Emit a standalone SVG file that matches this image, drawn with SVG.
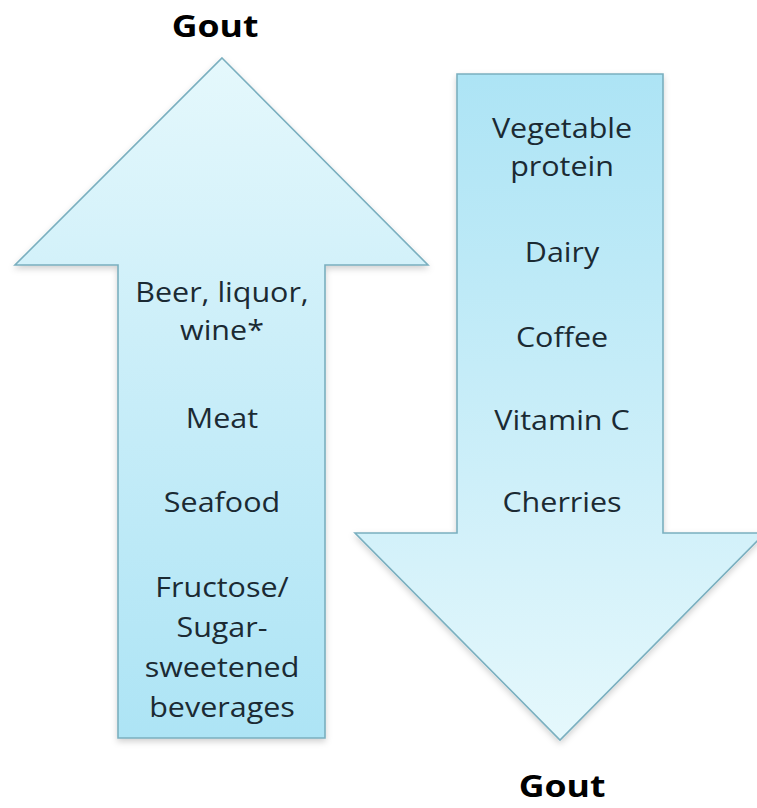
<svg xmlns="http://www.w3.org/2000/svg" width="757" height="808" viewBox="0 0 757 808">
<style>
.arrow{stroke:#7aafbf;stroke-width:1.6;stroke-linejoin:miter;filter:url(#sh)}
.t{font-family:"Open Sans","Liberation Sans",sans-serif;font-size:26.5px;fill:#1b2a33;text-anchor:middle}
.g{font-family:"Open Sans","Liberation Sans",sans-serif;font-size:31px;font-weight:bold;fill:#000;text-anchor:middle}
</style>
<defs>
<linearGradient id="gUp" x1="0" y1="1" x2="0" y2="0">
<stop offset="0" stop-color="#ade4f5"/>
<stop offset="0.6" stop-color="#cdeff9"/>
<stop offset="1" stop-color="#e5f8fc"/>
</linearGradient>
<linearGradient id="gDown" x1="0" y1="0" x2="0" y2="1">
<stop offset="0" stop-color="#ade4f5"/>
<stop offset="0.6" stop-color="#cdeff9"/>
<stop offset="1" stop-color="#e5f8fc"/>
</linearGradient>
<filter id="sh" x="-10%" y="-10%" width="120%" height="120%">
<feDropShadow dx="0" dy="3" stdDeviation="3" flood-color="#000" flood-opacity="0.18"/>
</filter>
</defs>
<rect width="757" height="808" fill="#fff"/>
<g id="up-arrow">
<path class="arrow" fill="url(#gUp)" d="M222,58 L428,265 L325,265 L325,738 L118,738 L118,265 L15,265 Z"/>
<g transform="translate(222,0) scale(1.15,1)">
<text class="t" x="0" y="302">Beer, liquor,</text>
<text class="t" x="0" y="340">wine*</text>
<text class="t" x="0" y="428">Meat</text>
<text class="t" x="0" y="512">Seafood</text>
<text class="t" x="0" y="597">Fructose/</text>
<text class="t" x="0" y="637">Sugar-</text>
<text class="t" x="0" y="677">sweetened</text>
<text class="t" x="0" y="717">beverages</text>
</g>
</g>
<g id="down-arrow">
<path class="arrow" fill="url(#gDown)" d="M457,74 L663,74 L663,533 L765,533 L560,740 L355,533 L457,533 Z"/>
<g transform="translate(562,0) scale(1.15,1)">
<text class="t" x="0" y="138">Vegetable</text>
<text class="t" x="0" y="176">protein</text>
<text class="t" x="0" y="262">Dairy</text>
<text class="t" x="0" y="347">Coffee</text>
<text class="t" x="0" y="430">Vitamin C</text>
<text class="t" x="0" y="512">Cherries</text>
</g>
</g>
<g id="gout-top" transform="translate(215,0) scale(1.15,1)">
<text class="g" x="0" y="37">Gout</text>
</g>
<g id="gout-bottom" transform="translate(562,0) scale(1.15,1)">
<text class="g" x="0" y="797">Gout</text>
</g>
<g id="connectors"/>
</svg>
